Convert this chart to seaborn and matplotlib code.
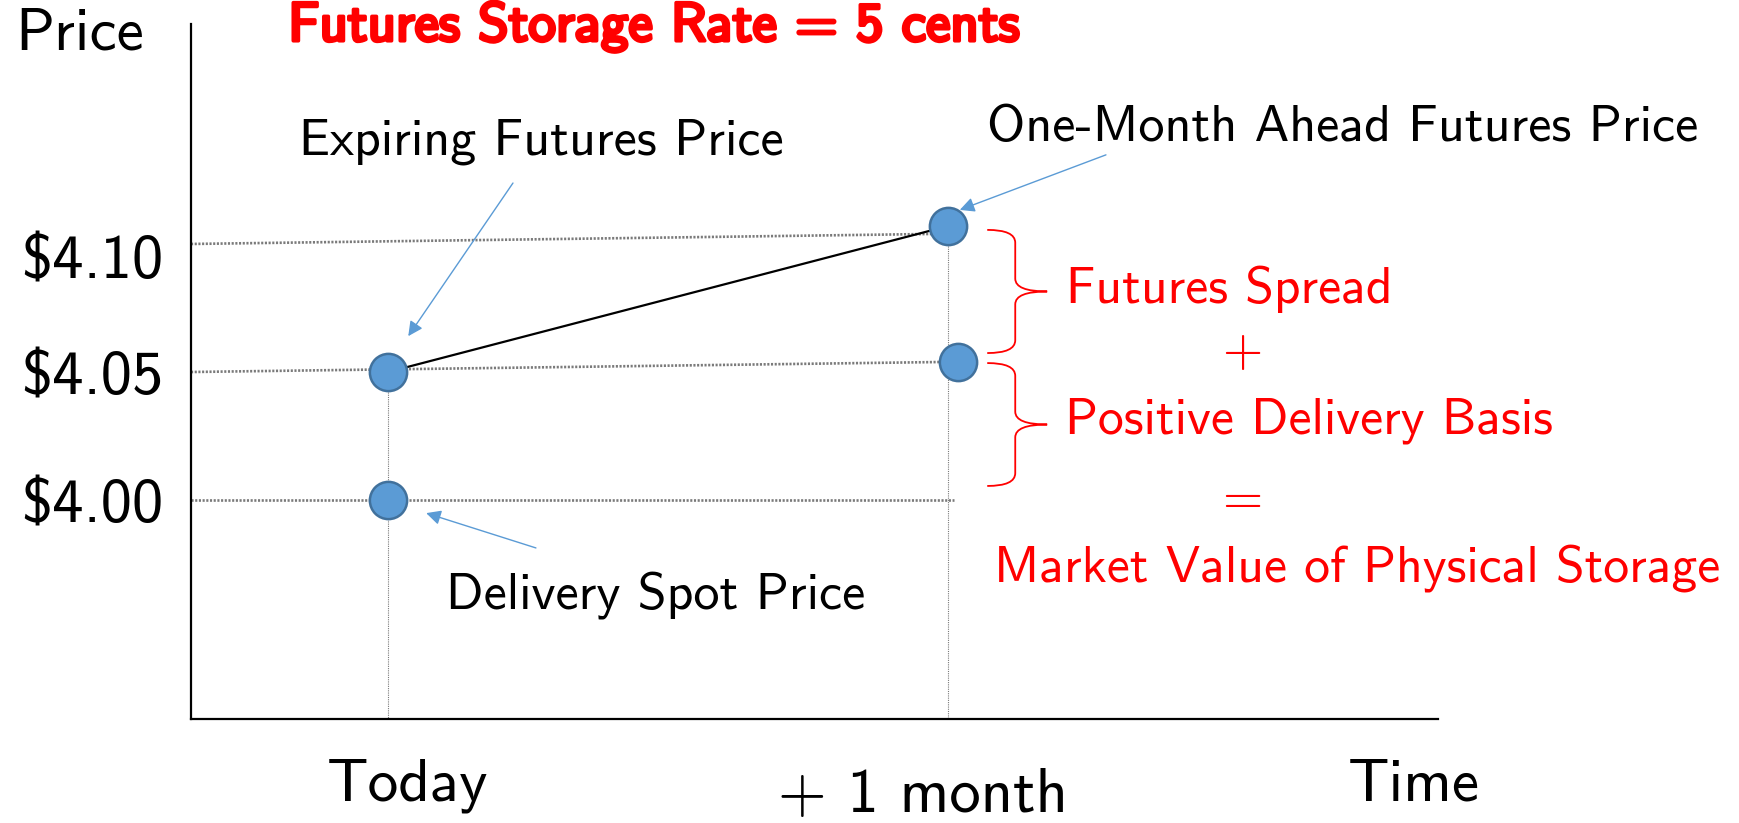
import numpy as np
import seaborn as sns
import matplotlib.pyplot as plt
import matplotlib.patheffects as pe
import matplotlib.transforms as mtransforms
from matplotlib.path import Path
from matplotlib.patches import PathPatch

# points on the chart (time in months from today, price in $)
point_names = ["Expiring Futures Price", "Delivery Spot Price",
               "One-Month Ahead Futures Price", "Delivery Price"]
point_time = [0.0, 0.0, 1.0, 1.018]
point_price = [4.05, 4.00, 4.107, 4.054]

price_ticks = [4.00, 4.05, 4.10]
price_labels = [r"\$4.00", r"\$4.05", r"\$4.10"]
time_labels = ["Today", "+ 1 month", "Time"]

title = "Futures Storage Rate = 5 cents"
summary_lines = ["Futures Spread", "+", "Positive Delivery Basis", "=",
                 "Market Value of Physical Storage"]

# brace spans (top, bottom) in price
brace_spans = [(4.1055, 4.0574), (4.0535, 4.0055)]

sns.set_style("white")
plt.rcParams["font.family"] = ["cmss10", "DejaVu Sans"]
plt.rcParams["text.color"] = "black"
plt.rcParams["ytick.color"] = "black"
plt.rcParams["xtick.color"] = "black"

BLUE = "#5B9BD5"
BLUE_EDGE = "#41719C"
GREY = "#7A7A7A"
RED = "#FF0000"

fig = plt.figure(figsize=(17.39, 8.23), dpi=100)
ax = fig.add_axes([191 / 1739, 104 / 823, (1438 - 191) / 1739, 695 / 823])
xmin, xmax = -0.352, 1.875
ymin, ymax = 3.9145, 4.1859
ax.set_xlim(xmin, xmax)
ax.set_ylim(ymin, ymax)

# dotted guide lines
dotted = (0, (0.8, 0.6))
ax.plot([xmin, point_time[2]], [price_ticks[2], point_price[2] - 0.003],
        color=GREY, lw=1.9, ls=dotted, zorder=1)
ax.plot([xmin, point_time[3]], [price_ticks[1], point_price[3]],
        color=GREY, lw=1.9, ls=dotted, zorder=1)
ax.plot([xmin, point_time[2] + 0.01], [price_ticks[0], price_ticks[0]],
        color=GREY, lw=1.9, ls=dotted, zorder=1)
ax.plot([point_time[0], point_time[0]], [point_price[0], ymin],
        color=GREY, lw=0.8, ls=(0, (1, 1)), zorder=1)
ax.plot([point_time[2], point_time[2]], [point_price[2], ymin],
        color=GREY, lw=0.8, ls=(0, (1, 1)), zorder=1)

# futures curve: expiring -> one month ahead
sns.lineplot(x=[point_time[0], point_time[2]], y=[point_price[0], point_price[2]],
             color="black", lw=1.6, ax=ax, zorder=2)

sns.scatterplot(x=point_time, y=point_price, s=720, color=BLUE,
                edgecolor=BLUE_EDGE, linewidth=1.8, ax=ax, zorder=5)

# blue arrow callouts
arrow = dict(arrowstyle="-|>", color=BLUE, lw=1.0, mutation_scale=22,
             shrinkA=0, shrinkB=0)
ax.annotate("", xy=(0.036, 4.064), xytext=(0.223, 4.1238), arrowprops=arrow)
ax.text(0.273, 4.1398, point_names[0], fontsize=37.5, ha="center", va="center")
ax.annotate("", xy=(1.021, 4.1133), xytext=(1.282, 4.1348), arrowprops=arrow)
ax.text(1.704, 4.1453, point_names[2], fontsize=37.5, ha="center", va="center")
ax.annotate("", xy=(0.068, 3.9949), xytext=(0.264, 3.9813), arrowprops=arrow)
ax.text(0.477, 3.9629, point_names[1], fontsize=37.5, ha="center", va="center")

# red braces
def draw_brace(y_top, y_bot, x0=1.070, x1=1.120, x2=1.177, r=0.005):
    ym = (y_top + y_bot) / 2
    verts = [(x0, y_top), (x1, y_top), (x1, y_top - r),
             (x1, ym + r), (x1, ym), (x2, ym),
             (x2, ym), (x1, ym), (x1, ym - r),
             (x1, y_bot + r), (x1, y_bot), (x0, y_bot)]
    codes = [Path.MOVETO, Path.CURVE3, Path.CURVE3,
             Path.LINETO, Path.CURVE3, Path.CURVE3,
             Path.MOVETO, Path.CURVE3, Path.CURVE3,
             Path.LINETO, Path.CURVE3, Path.CURVE3]
    ax.add_patch(PathPatch(Path(verts, codes), fill=False, ec=RED, lw=1.3))

for top, bot in brace_spans:
    draw_brace(top, bot)

summary_pos = [(1.502, 4.0824), (1.525, 4.0574), (1.645, 4.0309),
               (1.525, 3.9996), (1.730, 3.9734)]
for txt, (tx, ty) in zip(summary_lines, summary_pos):
    ax.text(tx, ty, txt, color=RED, fontsize=37.2, ha="center", va="center")

# axes styling
for side in ["top", "right"]:
    ax.spines[side].set_visible(False)
for side in ["left", "bottom"]:
    ax.spines[side].set_color("black")
    ax.spines[side].set_linewidth(1.6)
ax.set_xticks([])
ax.set_yticks(price_ticks)
ax.set_yticklabels(price_labels, fontsize=45)
ax.tick_params(axis="y", length=0, pad=20, labelcolor="black")
# the top label sits a little below its guide line in the original
top_lbl = ax.get_yticklabels()[-1]
top_lbl.set_transform(top_lbl.get_transform() +
                      mtransforms.ScaledTranslation(0, -13 / 100, fig.dpi_scale_trans))

xt = ax.get_xaxis_transform()
ax.text(0.034, -0.096, time_labels[0], transform=xt, fontsize=44,
        ha="center", va="center")
ax.text(0.955, -0.111, time_labels[1], transform=xt, fontsize=45,
        ha="center", va="center")
ax.text(1.832, -0.096, time_labels[2], transform=xt, fontsize=44,
        ha="center", va="center")

fig.text(80 / 1739, 1 - 35 / 823, "Price", fontsize=44, ha="center", va="center")
fig.text(654 / 1739, 1 - 27 / 823, title, fontsize=39.5, color=RED,
         ha="center", va="center",
         path_effects=[pe.withStroke(linewidth=2.6, foreground=RED)])

plt.savefig("out.png", dpi=100)
